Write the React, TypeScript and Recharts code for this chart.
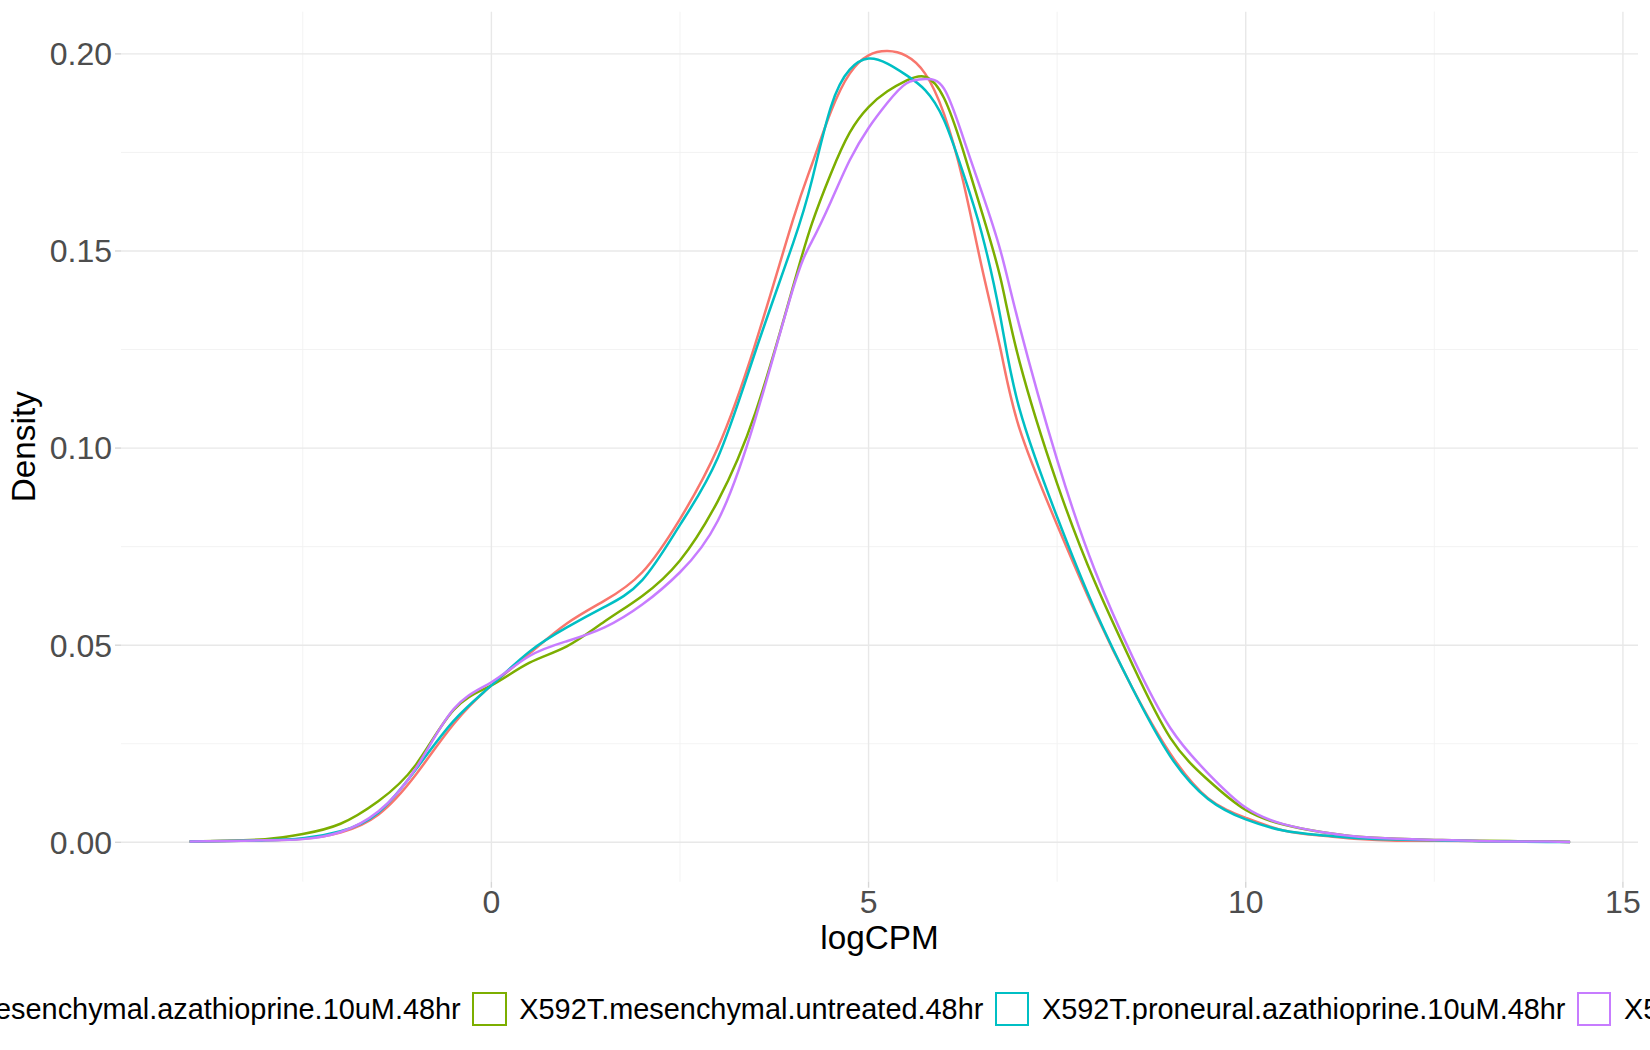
import React from 'react';
import { LineChart, Line, XAxis, YAxis, ReferenceLine, Legend, Label } from 'recharts';

const FONT = '"Liberation Sans", Arial, Helvetica, sans-serif';

// logCPM grid on which the density curves were read
const xValues = [-4, -3.5, -3, -2.5, -2, -1.5, -1, -0.5, 0, 0.5, 1, 1.5, 2, 2.5, 3, 3.5, 4, 4.25, 4.5, 4.75, 5, 5.25, 5.5, 5.75, 6, 6.25, 6.5, 6.75, 7, 7.5, 8, 8.5, 9, 9.5, 10, 10.5, 11, 11.5, 12, 12.5, 13, 13.5, 14, 14.3];

// X592T.mesenchymal.azathioprine.10uM.48hr
const mesAzaValues = [0.0002, 0.0003, 0.0005, 0.0009, 0.0025, 0.0070, 0.0172, 0.0300, 0.0398, 0.0478, 0.0555, 0.0613, 0.0685, 0.0820, 0.1000, 0.1265, 0.1580, 0.1720, 0.1853, 0.1950, 0.1996, 0.2007, 0.1995, 0.1950, 0.1848, 0.1680, 0.1460, 0.1250, 0.1050, 0.0805, 0.0585, 0.0390, 0.0225, 0.0112, 0.0062, 0.0030, 0.0017, 0.0008, 0.0004, 0.0004, 0.0003, 0.0002, 0.0002, 0.0001];

// X592T.mesenchymal.untreated.48hr
const mesUntValues = [0.0002, 0.0004, 0.0008, 0.0021, 0.0047, 0.0104, 0.0197, 0.0336, 0.0398, 0.0455, 0.0497, 0.0560, 0.0625, 0.0715, 0.0865, 0.1090, 0.1410, 0.1570, 0.1696, 0.1800, 0.1865, 0.1905, 0.1932, 0.1942, 0.1888, 0.1757, 0.1600, 0.1430, 0.1220, 0.0910, 0.0660, 0.0450, 0.0265, 0.0158, 0.0082, 0.0045, 0.0026, 0.0014, 0.0009, 0.0006, 0.0004, 0.0003, 0.0002, 0.0001];

// X592T.proneural.azathioprine.10uM.48hr
const proAzaValues = [0.0002, 0.0003, 0.0005, 0.0010, 0.0028, 0.0075, 0.0185, 0.0308, 0.0398, 0.0483, 0.0545, 0.0597, 0.0665, 0.0805, 0.0975, 0.1245, 0.1520, 0.1680, 0.1865, 0.1960, 0.1988, 0.1975, 0.1946, 0.1908, 0.1832, 0.1700, 0.1545, 0.1330, 0.1100, 0.0825, 0.0590, 0.0390, 0.0218, 0.0110, 0.0058, 0.0030, 0.0018, 0.0010, 0.0007, 0.0005, 0.0003, 0.0002, 0.0001, 0.0001];

// X592T.proneural.untreated.48hr
const proUntValues = [0.0002, 0.0003, 0.0005, 0.0008, 0.0026, 0.0078, 0.0188, 0.0338, 0.0406, 0.0472, 0.0510, 0.0545, 0.0603, 0.0685, 0.0815, 0.1075, 0.1405, 0.1525, 0.1625, 0.1730, 0.1812, 0.1876, 0.1925, 0.1936, 0.1912, 0.1790, 0.1650, 0.1500, 0.1310, 0.0970, 0.0690, 0.0470, 0.0290, 0.0175, 0.0088, 0.0046, 0.0026, 0.0014, 0.0009, 0.0006, 0.0004, 0.0002, 0.0002, 0.0001];

const seriesKeys = ['mesAza', 'mesUnt', 'proAza', 'proUnt'];
const seriesNames = [
  'X592T.mesenchymal.azathioprine.10uM.48hr',
  'X592T.mesenchymal.untreated.48hr',
  'X592T.proneural.azathioprine.10uM.48hr',
  'X592T.proneural.untreated.48hr',
];
const seriesColors = ['#F8766D', '#7CAE00', '#00BFC4', '#C77CFF'];
const seriesValues = [mesAzaValues, mesUntValues, proAzaValues, proUntValues];

const xTicks = [0, 5, 10, 15];
const yTicks = [0, 0.05, 0.1, 0.15, 0.2];
const xMinorTicks = [-2.5, 2.5, 7.5, 12.5];
const yMinorTicks = [0.025, 0.075, 0.125, 0.175];

const data = xValues.map((x, i) => {
  const row: Record<string, number> = { x };
  seriesKeys.forEach((k, s) => {
    row[k] = seriesValues[s][i];
  });
  return row;
});

const renderLegend = (props: any) => {
  const payload = props.payload || [];
  return (
    <div
      style={{
        display: 'flex',
        alignItems: 'center',
        whiteSpace: 'nowrap',
        marginLeft: -166,
        height: 50,
        fontFamily: FONT,
        fontSize: 28.9,
        color: '#000000',
      }}
    >
      {payload.map((entry: any, i: number) => (
        <div key={i} style={{ display: 'flex', alignItems: 'center', flexShrink: 0, marginRight: 11.5 }}>
          <div
            style={{
              width: 30.5,
              height: 30.5,
              border: `2px solid ${entry.color}`,
              marginRight: 12.5,
              flexShrink: 0,
            }}
          />
          <span style={{ lineHeight: '34px' }}>{entry.value}</span>
        </div>
      ))}
    </div>
  );
};

const XTitle = (props: any) => {
  const vb = props.viewBox;
  return (
    <text x={vb.x + vb.width / 2} y={949} textAnchor="middle" fontFamily={FONT} fontSize={33.3} fill="#000000">
      logCPM
    </text>
  );
};

const YTitle = (props: any) => {
  const vb = props.viewBox;
  const cy = vb.y + vb.height / 2;
  return (
    <text
      x={35}
      y={cy}
      textAnchor="middle"
      fontFamily={FONT}
      fontSize={33.3}
      fill="#000000"
      transform={`rotate(-90, 35, ${cy})`}
    >
      Density
    </text>
  );
};

export default function App() {
  return (
    <div style={{ position: 'absolute', left: 0, top: 0, width: 1650, height: 1050, overflow: 'hidden', background: '#ffffff' }}>
      <LineChart width={1650} height={1050} data={data} margin={{ top: 11.7, right: 12, bottom: 0, left: 0 }}>
        {xMinorTicks.map((v) => (
          <ReferenceLine key={`xm${v}`} x={v} stroke="#F2F2F2" strokeWidth={0.9} />
        ))}
        {yMinorTicks.map((v) => (
          <ReferenceLine key={`ym${v}`} y={v} stroke="#F2F2F2" strokeWidth={0.9} />
        ))}
        {xTicks.map((v) => (
          <ReferenceLine key={`xM${v}`} x={v} stroke="#E8E8E8" strokeWidth={1.4} />
        ))}
        {yTicks.map((v) => (
          <ReferenceLine key={`yM${v}`} y={v} stroke="#E8E8E8" strokeWidth={1.4} />
        ))}
        <XAxis
          type="number"
          dataKey="x"
          domain={[-4.91, 15.2]}
          allowDataOverflow
          ticks={xTicks}
          axisLine={false}
          tickLine={{ stroke: '#D6D6D6', strokeWidth: 1.4 }}
          tickSize={6}
          tickMargin={3}
          height={168.3}
          tick={{ fill: '#4D4D4D', fontSize: 32, fontFamily: FONT }}
        >
          <Label content={XTitle} />
        </XAxis>
        <YAxis
          type="number"
          domain={[-0.01, 0.2107]}
          allowDataOverflow
          ticks={yTicks}
          tickFormatter={(v: number) => v.toFixed(2)}
          axisLine={false}
          tickLine={{ stroke: '#D6D6D6', strokeWidth: 1.4 }}
          tickSize={6}
          tickMargin={3}
          width={121}
          tick={{ fill: '#4D4D4D', fontSize: 32, fontFamily: FONT }}
        >
          <Label content={YTitle} />
        </YAxis>
        <Legend
          layout="horizontal"
          verticalAlign="middle"
          align="center"
          content={renderLegend}
          wrapperStyle={{ left: 0, top: 984, width: 1650, height: 50 }}
        />
        {seriesKeys.map((k, s) => (
          <Line
            key={k}
            type="natural"
            dataKey={k}
            name={seriesNames[s]}
            stroke={seriesColors[s]}
            strokeWidth={2.5}
            dot={false}
            activeDot={false}
            isAnimationActive={false}
          />
        ))}
      </LineChart>
    </div>
  );
}
